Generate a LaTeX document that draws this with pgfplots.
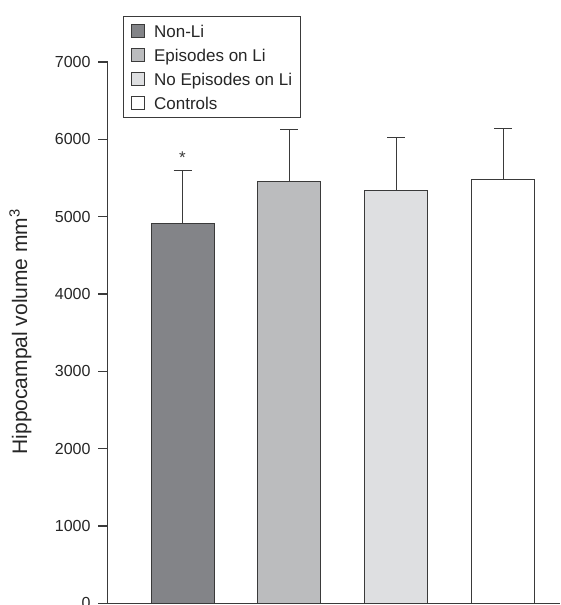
\documentclass[border=0pt]{standalone}
\usepackage{fontspec}
\setmainfont{Liberation Sans}
\usepackage{pgfplots}
\pgfplotsset{compat=1.18}

\definecolor{nonli}{HTML}{838488}
\definecolor{epili}{HTML}{BBBCBE}
\definecolor{noepi}{HTML}{DEDFE1}
\definecolor{edge}{HTML}{3A3A3A}

\pgfplotsset{
  sq/.style={legend image code/.code={
    \draw[##1] (0pt,-6.5pt) rectangle (13pt,6.5pt);
    \path (22pt,0pt);}},
  barstyle/.style={ybar, bar width=63pt, bar shift=0pt, draw=edge, line width=1pt, sq,
    error bars/y dir=plus, error bars/y explicit,
    error bars/error bar style={draw=edge, line width=1.1pt},
    error bars/error mark options={rotate=90, draw=edge, line width=1.1pt, mark size=9pt}},
}

\begin{document}
\begin{tikzpicture}
\begin{axis}[
  at={(107.7pt,-603.3pt)}, anchor=south west,
  scale only axis, width=452.3pt, height=541.3pt,
  xmin=-0.70, xmax=3.53, ymin=0, ymax=7000,
  axis lines*=left,
  axis line style={draw=edge, line width=1.1pt},
  xtick=\empty, ytick={0,1000,...,7000},
  tick align=outside, major tick length=9.4pt,
  tick style={draw=edge, line width=1.1pt},
  /pgf/number format/assume math mode=true,
  /pgf/number format/1000 sep={},
  yticklabel style={font=\fontsize{16}{19}\selectfont, inner sep=0pt, xshift=-7.6pt, text=black!85},
  ylabel={Hippocampal volume mm\textsuperscript{3}},
  ylabel style={at={(axis description cs:-0.1928,0.502)}, anchor=center,
    font=\fontsize{21}{25}\selectfont, text=black!85},
  legend style={at={(axis description cs:0.033,1.085)}, anchor=north west,
    draw=edge, line width=1pt, inner xsep=8pt, inner ysep=7.3pt,
    font=\fontsize{17}{20}\selectfont, text=black!85, row sep=10.1pt,
    nodes={inner sep=0pt, text height=12.5pt, text depth=0pt}},
  legend cell align=left,
]
\addplot[barstyle, fill=nonli] coordinates {(0,4907) +- (0,690)};
\addlegendentry{Non-Li}
\addplot[barstyle, fill=epili] coordinates {(1,5450) +- (0,677)};
\addlegendentry{Episodes on Li}
\addplot[barstyle, fill=noepi] coordinates {(2,5343) +- (0,680)};
\addlegendentry{No Episodes on Li}
\addplot[barstyle, fill=white] coordinates {(3,5476) +- (0,664)};
\addlegendentry{Controls}
\node[anchor=base, font=\fontsize{17}{20}\selectfont, text=edge] at (axis cs:0,5685) {*};
\end{axis}
\pgfresetboundingbox
\useasboundingbox (0,0) rectangle (560pt,-605pt);
\end{tikzpicture}
\end{document}
